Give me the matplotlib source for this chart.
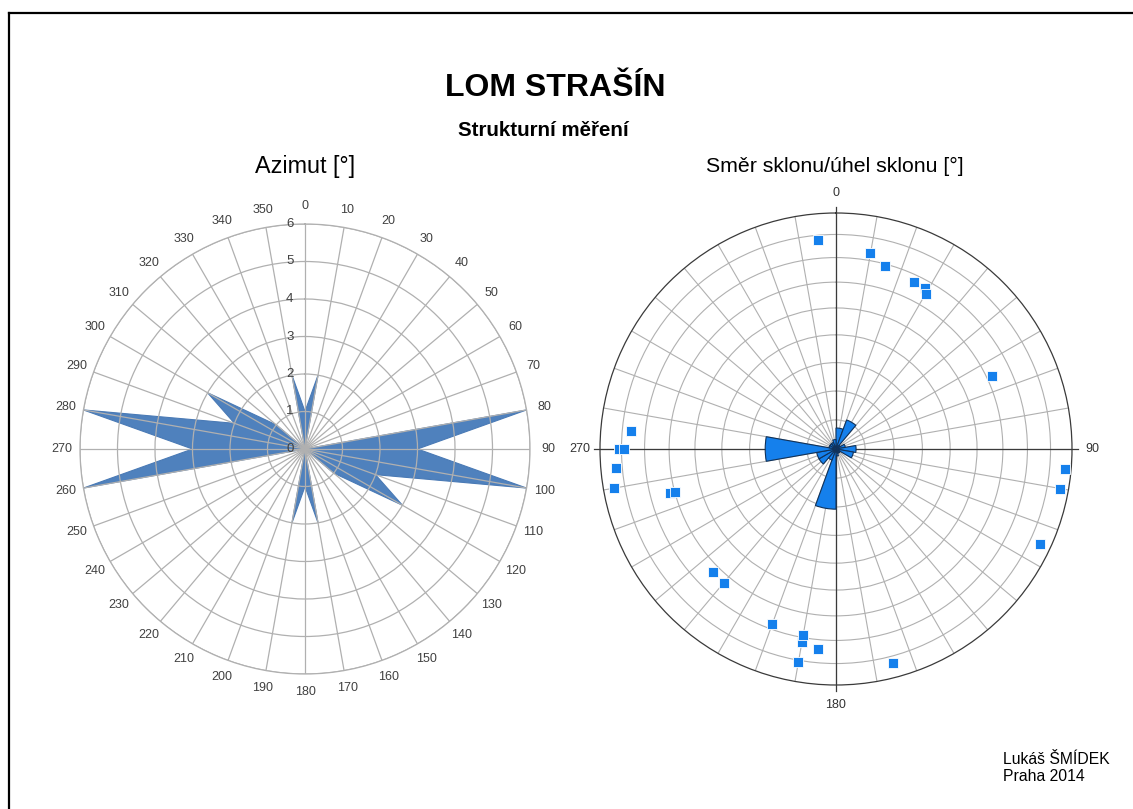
import matplotlib
matplotlib.use('Agg')
import matplotlib.pyplot as plt
import numpy as np
from matplotlib.lines import Line2D

plt.rcParams['font.family'] = ['Liberation Sans', 'DejaVu Sans']

# ─────────────────────────────────────────────
# data
# ─────────────────────────────────────────────
# azimut radar (count per 10 deg)
azimut_deg = list(range(0, 360, 10))
azimut_count = [1, 2, 0, 0, 0, 0, 0, 0, 6, 3, 6, 2, 3, 1, 0, 0, 0, 2,
                1, 2, 0, 0, 0, 0, 0, 0, 6, 3, 6, 2, 3, 1, 0, 0, 0, 2]

# rose in the stereonet (20 deg bins, relative length)
rose_start = list(range(0, 360, 20))
rose_len = [0.089, 0.131, 0.02, 0.04, 0.085, 0.075, 0.02, 0.02, 0.03,
            0.255, 0.05, 0.083, 0.083, 0.30, 0.03, 0.03, 0.03, 0.04]

# poles: dip direction / dip [deg]
dip_dir = [209, 90, 75, 10,
           175, 190, 195, 205, 210, 245, 95, 90, 85, 80, 75,
           275, 280, 295, 45, 40, 20, 10, 5, 10, 345]
dip = [67, 81, 62, 72,
       78, 73, 69, 67, 65, 62, 76, 79, 83, 85, 60,
       87, 86, 85, 63, 63, 68, 69, 74, 81, 83]

BLUE = '#1580ec'
GRID = '#b0b0b0'

fig = plt.figure(figsize=(11.33, 8.09), dpi=100)
fig.patch.set_facecolor('white')

# frame (left + top line)
fig.add_artist(Line2D([9 / 1133, 9 / 1133], [0, 1 - 13 / 809], color='black', lw=1.6))
fig.add_artist(Line2D([9 / 1133, 1], [1 - 13 / 809, 1 - 13 / 809], color='black', lw=1.6))

fig.text(555 / 1133, 1 - 88 / 809, 'LOM STRAŠÍN', ha='center', va='center',
         fontsize=23, fontweight='bold')
fig.text(543 / 1133, 1 - 130 / 809, 'Strukturní měření', ha='center', va='center',
         fontsize=14.8, fontweight='bold')
fig.text(305 / 1133, 1 - 166 / 809, 'Azimut [°]', ha='center', va='center', fontsize=16.8)
fig.text(835 / 1133, 1 - 166 / 809, 'Směr sklonu/úhel sklonu [°]', ha='center',
         va='center', fontsize=15.3)
fig.text(1003 / 1133, 1 - 768 / 809, 'Lukáš ŠMÍDEK\nPraha 2014', ha='left',
         va='center', fontsize=11.3, linespacing=1.15)

# ─────────────────────────────────────────────
# left: azimut radar
# ─────────────────────────────────────────────
ax1 = fig.add_axes([80 / 1133, 1 - 674 / 809, 450 / 1133, 450 / 809], projection='polar')
ax1.set_theta_zero_location('N')
ax1.set_theta_direction(-1)
ax1.set_ylim(0, 6)

th = np.radians(azimut_deg + [azimut_deg[0]])
vals = azimut_count + [azimut_count[0]]
ax1.fill(th, vals, color='#4F81BD', lw=0.8, edgecolor='#4a7ab5')

ax1.set_rgrids([1, 2, 3, 4, 5, 6], labels=[''] * 6)
ax1.set_thetagrids(azimut_deg, labels=[''] * len(azimut_deg))
ax1.grid(color=GRID, lw=0.9)
ax1.spines['polar'].set_color(GRID)
ax1.spines['polar'].set_linewidth(0.9)

for a in azimut_deg:
    ax1.text(np.radians(a), 6.48, str(a), ha='center', va='center',
             fontsize=9, color='#404040')
for k in range(0, 7):
    ax1.annotate(str(k), xy=(0, k), xytext=(-11, 0), textcoords='offset points',
                 ha='center', va='center', fontsize=9.5, color='#404040')

# ─────────────────────────────────────────────
# right: poles + rose (equal-area net)
# ─────────────────────────────────────────────
ax2 = fig.add_axes([600 / 1133, 1 - 685 / 809, 472 / 1133, 472 / 809], projection='polar')
ax2.set_theta_zero_location('N')
ax2.set_theta_direction(-1)
ax2.set_ylim(0, 1)

ring_dips = np.arange(10, 90, 10)
ax2.set_rgrids(np.sqrt(2) * np.sin(np.radians(ring_dips) / 2), labels=[''] * len(ring_dips))
ax2.set_thetagrids(list(range(0, 360, 10)), labels=[''] * 36)
ax2.grid(color=GRID, lw=0.8)
ax2.spines['polar'].set_color('#3a3a3a')
ax2.spines['polar'].set_linewidth(0.9)

for a, lab in [(0, '0'), (90, '90'), (180, '180'), (270, '270')]:
    ax2.plot([np.radians(a), np.radians(a)], [0, 1.025], color='#3a3a3a', lw=0.9,
             clip_on=False, zorder=2)
    ax2.text(np.radians(a), 1.085, lab, ha='center', va='center', fontsize=9,
             color='#333333')

ax2.bar(np.radians(np.array(rose_start) + 10), rose_len, width=np.radians(20),
        color=BLUE, edgecolor='#10325a', lw=0.8, zorder=3)

trend = np.radians((np.array(dip_dir) + 180) % 360)
r = np.sqrt(2) * np.sin(np.radians(np.array(dip)) / 2)
ax2.plot(trend, r, 's', ms=7.5, color=BLUE, mec='white', mew=0.6, zorder=4,
         clip_on=False)

fig.savefig('out.png', dpi=100)
